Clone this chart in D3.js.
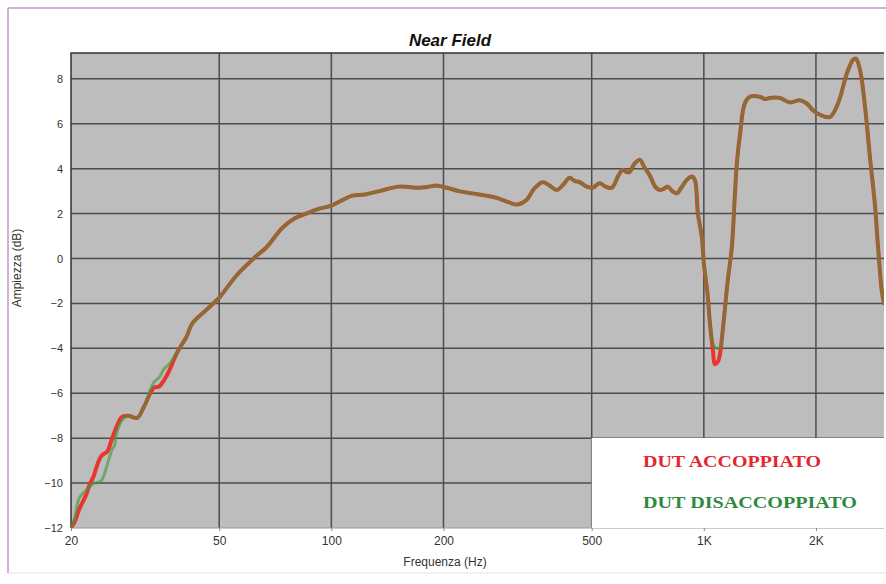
<!DOCTYPE html>
<html>
<head>
<meta charset="utf-8">
<script src="https://cdn.jsdelivr.net/npm/d3@7"></script>
<style>
  html, body { margin: 0; padding: 0; background: #ffffff; }
  svg { display: block; }
</style>
</head>
<body>
<svg id="chart" width="886" height="584"></svg>
<script>
// Near-field response: frequency (Hz) and level (dB) for both DUT configurations
const freqs = [
  20, 20.5, 21.0, 22.0, 22.4, 23.0, 23.2, 24.1, 25.0, 25.2, 25.8, 26.2, 26.5, 27.4, 28.5, 30.1, 31.4,
  33.4, 34.5, 35.6, 36.7, 38.5, 40.8, 42.3, 46.1, 49.3, 50, 56, 62.8, 67, 73.8, 80, 85.6, 92,
  100, 107, 113.8, 123, 134.6, 152, 172, 183, 191, 204, 220, 239, 260, 278, 300, 316, 334,
  350, 369, 385, 403, 420, 436, 450, 464, 485, 503, 525, 545, 566, 590, 606, 620, 632, 650,
  673, 693, 716, 740, 762, 780, 800, 823, 846, 870, 900, 928, 946, 964, 988, 1000, 1025,
  1038, 1058, 1070, 1090, 1104, 1124, 1160, 1189, 1211, 1226, 1250, 1288, 1329, 1413, 1460,
  1503, 1600, 1702, 1811, 1892, 1963, 2050, 2180, 2292, 2422, 2516, 2560, 2626, 2709, 2793,
  2883, 2936, 3010, 3046
];
const accoppiato = [
  -12.0, -11.7, -11.2, -10.5, -10.1, -9.7, -9.5, -8.8, -8.6, -8.5, -8.0, -7.7, -7.5, -7.05, -7.0, -7.1, -6.6,
  -5.75, -5.7, -5.4, -5.0, -4.2, -3.5, -2.9, -2.3, -1.85, -1.75, -0.7, 0.1, 0.5, 1.36, 1.8, 2.0, 2.2,
  2.35, 2.6, 2.8, 2.85, 3.0, 3.2, 3.15, 3.2, 3.25, 3.15, 3.0, 2.9, 2.8, 2.7, 2.5, 2.4, 2.6,
  3.1, 3.4, 3.25, 3.05, 3.3, 3.6, 3.45, 3.4, 3.2, 3.15, 3.35, 3.2, 3.15, 3.7, 3.95, 3.85, 3.85, 4.2,
  4.4, 4.05, 3.7, 3.2, 3.05, 3.1, 3.2, 3.0, 2.9, 3.15, 3.5, 3.65, 3.5, 2.0, 0.95, -0.2, -1.7,
  -2.85, -4.1, -4.7, -4.6, -4.3, -3.2, -0.95, 0.5, 2.75, 4.2, 5.5, 6.9, 7.2, 7.2, 7.1,
  7.15, 7.15, 6.95, 7.05, 6.9, 6.6, 6.4, 6.3, 6.9, 8.25, 8.85, 8.9, 8.4, 6.75, 4.5,
  2.3, 0.5, -1.55, -2.0
];
const disaccoppiato = [
  -12.0, -11.5, -10.7, -10.3, -10.2, -10.0, -10.0, -9.9, -9.2, -9.0, -8.5, -8.3, -7.8, -7.2, -7.0, -7.1, -6.6,
  -5.5, -5.3, -4.9, -4.7, -4.2, -3.5, -2.9, -2.3, -1.85, -1.75, -0.7, 0.1, 0.5, 1.36, 1.8, 2.0, 2.2,
  2.35, 2.6, 2.8, 2.85, 3.0, 3.2, 3.15, 3.2, 3.25, 3.15, 3.0, 2.9, 2.8, 2.7, 2.5, 2.4, 2.6,
  3.1, 3.4, 3.25, 3.05, 3.3, 3.6, 3.45, 3.4, 3.2, 3.15, 3.35, 3.2, 3.15, 3.7, 3.95, 3.85, 3.85, 4.2,
  4.4, 4.05, 3.7, 3.2, 3.05, 3.1, 3.2, 3.0, 2.9, 3.15, 3.5, 3.65, 3.5, 2.0, 0.95, -0.2, -1.7,
  -2.85, -3.8, -3.95, -4.0, -4.0, -3.2, -0.95, 0.5, 2.75, 4.2, 5.5, 6.9, 7.2, 7.2, 7.1,
  7.15, 7.15, 6.95, 7.05, 6.9, 6.6, 6.4, 6.3, 6.9, 8.25, 8.85, 8.9, 8.4, 6.75, 4.5,
  2.3, 0.5, -1.55, -2.0
];
const xTicks = [20, 50, 100, 200, 500, 1000, 2000];
const xTickLabels = ["20", "50", "100", "200", "500", "1K", "2K"];
const yTicks = [-12, -10, -8, -6, -4, -2, 0, 2, 4, 6, 8];
const legendLabels = ["DUT ACCOPPIATO", "DUT DISACCOPPIATO"];

const svg = d3.select("#chart");
const plot = { left: 71, right: 884, top: 53, bottom: 528 };

const x = d3.scaleLog().domain([20, 3046]).range([plot.left, plot.right]);
const y = d3.scaleLinear().domain([-12, 9.15]).range([plot.bottom, plot.top]);

// outer frame
svg.append("line").attr("x1", 8).attr("y1", 8).attr("x2", 886).attr("y2", 8)
  .attr("stroke", "#c596c9").attr("stroke-width", 1.5);
svg.append("line").attr("x1", 8).attr("y1", 8).attr("x2", 8).attr("y2", 573)
  .attr("stroke", "#c596c9").attr("stroke-width", 1.5);
svg.append("line").attr("x1", 8).attr("y1", 573).attr("x2", 886).attr("y2", 573)
  .attr("stroke", "#e2e2e2").attr("stroke-width", 1);

// plot background
svg.append("rect")
  .attr("x", plot.left).attr("y", plot.top)
  .attr("width", plot.right - plot.left).attr("height", plot.bottom - plot.top)
  .attr("fill", "#bdbdbd");

// grid
const grid = svg.append("g");
grid.selectAll(".hg").data(yTicks.filter(d => d > -12)).enter().append("line")
  .attr("x1", plot.left).attr("x2", plot.right)
  .attr("y1", d => y(d)).attr("y2", d => y(d))
  .attr("stroke", "#4d4d4d").attr("stroke-width", 1.5);
grid.selectAll(".vg").data(xTicks.filter(d => d > 20)).enter().append("line")
  .attr("x1", d => x(d)).attr("x2", d => x(d))
  .attr("y1", plot.top).attr("y2", plot.bottom)
  .attr("stroke", "#4d4d4d").attr("stroke-width", 1.5);

// plot border (top and left)
svg.append("path")
  .attr("d", `M${plot.left},${plot.bottom}V${plot.top}H${plot.right}`)
  .attr("fill", "none").attr("stroke", "#333").attr("stroke-width", 1.5);
svg.append("line").attr("x1", plot.left).attr("x2", plot.right)
  .attr("y1", plot.bottom).attr("y2", plot.bottom)
  .attr("stroke", "#9a9a9a").attr("stroke-width", 1);

// axes
const yAxis = d3.axisLeft(y).tickValues(yTicks).tickSize(0).tickPadding(8);
const gy = svg.append("g").attr("transform", `translate(${plot.left},0)`).call(yAxis);
gy.select(".domain").remove();
gy.selectAll("text").attr("font-family", "Arial, 'Liberation Sans', sans-serif")
  .attr("font-size", 11).attr("fill", "#333");

const xAxis = d3.axisBottom(x).tickValues(xTicks)
  .tickFormat((d, i) => xTickLabels[i]).tickSize(3).tickPadding(5);
const gx = svg.append("g").attr("transform", `translate(0,${plot.bottom})`).call(xAxis);
gx.select(".domain").remove();
gx.selectAll("line").attr("stroke", "#888");
gx.selectAll("text").attr("font-family", "Arial, 'Liberation Sans', sans-serif")
  .attr("font-size", 12).attr("fill", "#333");

// curves
const lineGen = vals => d3.line()
  .x((d, i) => x(freqs[i]))
  .y(d => y(d))
  .curve(d3.curveCatmullRom.alpha(0.5))(vals);

svg.append("clipPath").attr("id", "clip").append("rect")
  .attr("x", plot.left).attr("y", plot.top - 5)
  .attr("width", plot.right - plot.left).attr("height", plot.bottom - plot.top + 5);
const curves = svg.append("g").attr("clip-path", "url(#clip)");

curves.append("path").attr("d", lineGen(accoppiato))
  .attr("fill", "none").attr("stroke", "#e8352d").attr("stroke-width", 4)
  .attr("stroke-linejoin", "round").attr("stroke-linecap", "round");
curves.append("path").attr("d", lineGen(disaccoppiato))
  .attr("fill", "none").attr("stroke", "#3f9a3a").attr("stroke-width", 3)
  .attr("stroke-opacity", 0.62)
  .attr("stroke-linejoin", "round").attr("stroke-linecap", "round");

// legend
const lg = svg.append("g");
lg.append("rect").attr("x", x(500)).attr("y", 438)
  .attr("width", plot.right - x(500)).attr("height", plot.bottom - 438)
  .attr("fill", "#ffffff");
const legendWidths = [178, 214];
lg.selectAll("text").data(legendLabels).enter().append("text")
  .attr("x", 643).attr("y", (d, i) => 467 + i * 41)
  .attr("font-family", "'Liberation Serif', 'Times New Roman', serif")
  .attr("font-weight", "bold").attr("font-size", 17)
  .attr("textLength", (d, i) => legendWidths[i]).attr("lengthAdjust", "spacingAndGlyphs")
  .attr("fill", (d, i) => i === 0 ? "#e5262e" : "#2e8a3e")
  .text(d => d);

// titles
svg.append("text").attr("x", 450).attr("y", 46).attr("text-anchor", "middle")
  .attr("font-family", "Arial, 'Liberation Sans', sans-serif")
  .attr("font-weight", "bold").attr("font-style", "italic").attr("font-size", 17)
  .attr("fill", "#111").text("Near Field");
svg.append("text").attr("x", 445).attr("y", 566).attr("text-anchor", "middle")
  .attr("font-family", "Arial, 'Liberation Sans', sans-serif")
  .attr("font-size", 12).attr("fill", "#333").text("Frequenza (Hz)");
svg.append("text")
  .attr("transform", "translate(21,268) rotate(-90)")
  .attr("text-anchor", "middle")
  .attr("font-family", "Arial, 'Liberation Sans', sans-serif")
  .attr("font-size", 12).attr("fill", "#333").text("Ampiezza (dB)");
</script>
</body>
</html>
